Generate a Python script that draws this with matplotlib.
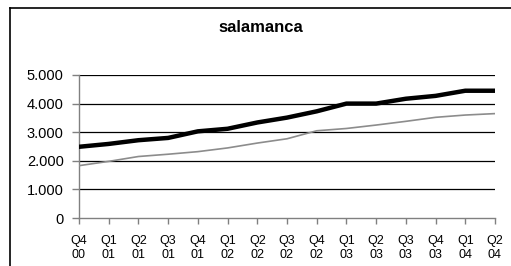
import matplotlib
matplotlib.use("Agg")
import matplotlib.pyplot as plt
from matplotlib.lines import Line2D

categories = ["Q4\n00", "Q1\n01", "Q2\n01", "Q3\n01", "Q4\n01", "Q1\n02", "Q2\n02",
              "Q3\n02", "Q4\n02", "Q1\n03", "Q2\n03", "Q3\n03", "Q4\n03", "Q1\n04", "Q2\n04"]
series_black = [2490, 2590, 2720, 2800, 3030, 3120, 3340, 3510, 3730, 4000, 4000, 4170, 4270, 4450, 4450]
series_gray = [1830, 1980, 2150, 2230, 2320, 2450, 2620, 2770, 3050, 3130, 3250, 3380, 3520, 3600, 3650]
yticks = [0, 1000, 2000, 3000, 4000, 5000]
ylabels = ["0", "1.000", "2.000", "3.000", "4.000", "5.000"]
title = "salamanca"

plt.rcParams['font.family'] = ['Liberation Sans', 'DejaVu Sans']

W, H = 511, 266
fig = plt.figure(figsize=(W / 100, H / 100), dpi=100)
fig.patch.set_facecolor("white")

# outer chart border (left and top)
fig.add_artist(Line2D([10 / W, 10 / W], [0, 1 - 8 / H], transform=fig.transFigure, color="black", lw=1.2))
fig.add_artist(Line2D([10 / W, 1], [1 - 8 / H, 1 - 8 / H], transform=fig.transFigure, color="black", lw=1.2))

left, right = 79 / W, 495 / W
top, bottom = 1 - 75 / H, 1 - 218 / H
ax = fig.add_axes([left, bottom, right - left, top - bottom])

x = list(range(len(categories)))
for yv in yticks[1:]:
    ax.axhline(yv, color="black", lw=0.9, zorder=1)
ax.plot(x, series_gray, color="#8c8c8c", lw=1.2, zorder=3, solid_joinstyle="round")
ax.plot(x, series_black, color="black", lw=3.2, zorder=4, solid_joinstyle="round")

ax.set_xlim(0, len(categories) - 1)
ax.set_ylim(0, 5000)
ax.set_yticks(yticks)
ax.set_yticklabels(ylabels, fontsize=10.5)
ax.set_xticks(x)
ax.set_xticklabels(categories, fontsize=9, linespacing=1.25)

for s in ["top", "right"]:
    ax.spines[s].set_visible(False)
ax.spines["left"].set_color("#808080")
ax.spines["bottom"].set_color("#808080")
ax.spines["left"].set_linewidth(1)
ax.spines["bottom"].set_linewidth(1)
ax.spines["bottom"].set_zorder(2)
ax.tick_params(axis="y", length=5, color="#808080", width=1, pad=6)
ax.tick_params(axis="x", length=4, color="#808080", width=1, pad=8)

fig.text(261 / W, 1 - 27 / H, title, ha="center", va="center", fontsize=12, fontweight="bold")

fig.savefig("out.png", dpi=100)
